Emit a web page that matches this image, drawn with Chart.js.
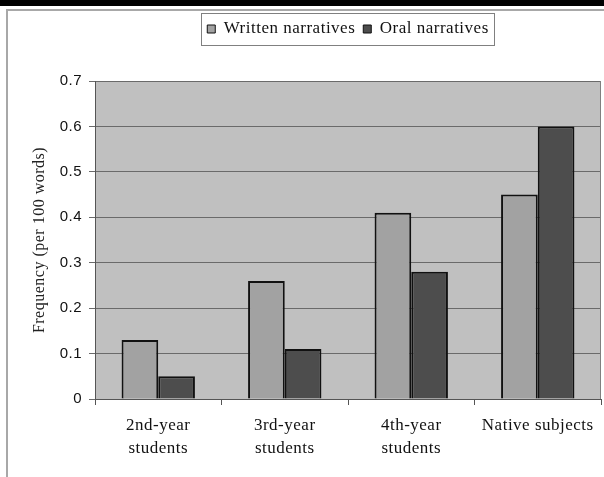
<!DOCTYPE html>
<html>
<head>
<meta charset="utf-8">
<script src="https://cdn.jsdelivr.net/npm/chart.js@4/dist/chart.umd.min.js"></script>
<style>
  html, body { margin: 0; padding: 0; background: #fff; }
  body { width: 604px; height: 477px; position: relative; overflow: hidden; }
  #topbar { position: absolute; left: 0; top: 0; width: 604px; height: 6px; background: #000; }
  #frame { position: absolute; left: 6px; top: 9px; width: 600px; height: 470px;
           border-left: 2px solid #a8a8a8; border-top: 2px solid #a8a8a8; }
  #wrap { position: absolute; left: 0; top: 0; width: 604px; height: 477px; }
</style>
</head>
<body>
<div id="topbar"></div>
<div id="frame"></div>
<div id="wrap"><canvas id="chart"></canvas></div>
<script>
// chart data
const categories = [['2nd-year', 'students'], ['3rd-year', 'students'], ['4th-year', 'students'], 'Native subjects'];
const writtenValues = [0.13, 0.26, 0.41, 0.45];
const oralValues = [0.05, 0.11, 0.28, 0.60];
const yTickLabels = ['0', '0.1', '0.2', '0.3', '0.4', '0.5', '0.6', '0.7'];
const seriesNames = ['Written narratives', 'Oral narratives'];

const serif = '"Liberation Serif", "Times New Roman", serif';
const sans = '"Liberation Sans", Arial, sans-serif';

// slight letter spacing, the reference text looks loosely set
function spacing(chart) {
  if ('letterSpacing' in chart.ctx) chart.ctx.letterSpacing = '0.5px';
}

// grey plot area with a thin frame
const plotArea = {
  id: 'plotArea',
  beforeUpdate: spacing,
  beforeLayout: spacing,
  beforeDraw(chart) {
    spacing(chart);
    const { ctx, chartArea: a } = chart;
    ctx.save();
    ctx.fillStyle = '#c0c0c0';
    ctx.fillRect(a.left, a.top, a.right - a.left, a.bottom - a.top);
    ctx.restore();
  },
  afterDatasetsDraw(chart) {
    const { ctx, chartArea: a } = chart;
    ctx.save();
    ctx.strokeStyle = '#808080';
    ctx.lineWidth = 1;
    ctx.beginPath();
    ctx.moveTo(Math.round(a.right) - 0.5, a.top);
    ctx.lineTo(Math.round(a.right) - 0.5, a.bottom);
    ctx.stroke();
    ctx.restore();
  }
};

// move the legend over the plot centre and box it
const legendBox = {
  id: 'legendBox',
  afterLayout(chart) {
    const lg = chart.legend;
    const h = lg.bottom - lg.top;
    lg.left = chart.chartArea.left;
    lg.right = chart.chartArea.right;
    lg.top = 12.5;
    lg.bottom = 12.5 + h;
  },
  afterDraw(chart) {
    const lg = chart.legend;
    const pad = lg.options.labels.padding;
    const lw = lg.lineWidths[0];
    const x0 = (lg.left + pad + lg.right - lw) / 2;
    const ctx = chart.ctx;
    ctx.save();
    ctx.strokeStyle = '#808080';
    ctx.lineWidth = 1;
    ctx.strokeRect(Math.round(x0 - 6) + 0.5, 13.5, Math.round(lw - pad + 12), 32);
    ctx.restore();
  }
};

const ctx = document.getElementById('chart').getContext('2d');
const chart = new Chart(ctx, {
  type: 'bar',
  data: {
    labels: categories,
    datasets: [
      {
        label: seriesNames[0],
        data: writtenValues,
        backgroundColor: '#a2a2a2',
        borderColor: '#111',
        borderWidth: 2
      },
      {
        label: seriesNames[1],
        data: oralValues,
        backgroundColor: '#4d4d4d',
        borderColor: '#111',
        borderWidth: 2
      }
    ]
  },
  options: {
    responsive: true,
    maintainAspectRatio: false,
    animation: false,
    devicePixelRatio: 1,
    layout: { padding: { left: 0, right: 3, top: 46, bottom: 0 } },
    datasets: { bar: { categoryPercentage: 0.58, barPercentage: 1 } },
    plugins: {
      tooltip: { enabled: false },
      legend: {
        position: 'top',
        labels: {
          font: { family: serif, size: 17 },
          color: '#111',
          boxWidth: 8,
          boxHeight: 8,
          padding: 8,
          generateLabels(c) {
            return Chart.defaults.plugins.legend.labels.generateLabels(c)
              .map(l => Object.assign(l, { lineWidth: 1 }));
          }
        }
      }
    },
    scales: {
      x: {
        afterFit(s) { s.height = 78; },
        grid: {
          offset: true,
          drawOnChartArea: false,
          tickLength: 6,
          color: '#555'
        },
        border: { color: '#555', width: 1 },
        ticks: {
          font: { family: serif, size: 17, lineHeight: 1.35 },
          color: '#111',
          padding: 9,
          maxRotation: 0,
          autoSkip: false
        }
      },
      y: {
        min: 0,
        max: 0.7,
        afterFit(s) { s.width = 95; },
        grid: { color: '#6a6a6a', tickLength: 6 },
        border: { color: '#555', width: 1 },
        ticks: {
          stepSize: 0.1,
          font: { family: sans, size: 15 },
          color: '#111',
          padding: 7,
          callback: (v, i) => yTickLabels[i]
        },
        title: {
          display: true,
          text: 'Frequency (per 100 words)',
          font: { family: serif, size: 16 },
          color: '#222',
          padding: { top: 30, bottom: 0 }
        }
      }
    }
  },
  plugins: [plotArea, legendBox]
});
</script>
</body>
</html>
